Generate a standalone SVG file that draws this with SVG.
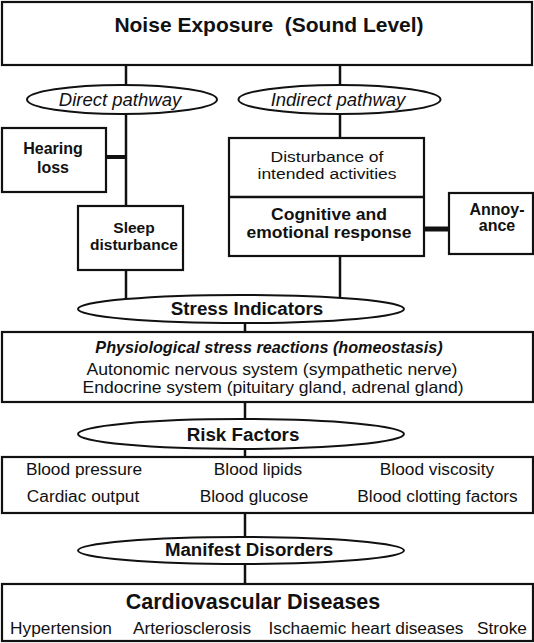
<svg xmlns="http://www.w3.org/2000/svg" width="534" height="643" viewBox="0 0 534 643">
<style>
.box{fill:#fff;stroke:#111;stroke-width:2.2}
.ell{fill:#fff;stroke:#111;stroke-width:2}
.con{stroke:#111;stroke-width:2.5;fill:none}
text{font-family:"Liberation Sans",Arial,sans-serif;fill:#111;text-anchor:middle}
.b{font-weight:bold}
.i{font-style:italic}
</style>
<rect width="534" height="643" fill="#fff"/>
<g id="connectors">
<line class="con" x1="126" y1="65" x2="126" y2="86"/>
<line class="con" x1="340" y1="65" x2="340" y2="86"/>
<line class="con" x1="126" y1="113" x2="126" y2="207"/>
<line class="con" x1="106" y1="157" x2="126" y2="157" style="stroke-width:4"/>
<line class="con" x1="340" y1="113" x2="340" y2="139"/>
<line class="con" x1="424" y1="229" x2="449" y2="229" style="stroke-width:5"/>
<line class="con" x1="126" y1="269" x2="126" y2="301"/>
<line class="con" x1="340" y1="255" x2="340" y2="300"/>
<line class="con" x1="245" y1="322" x2="245" y2="333"/>
<line class="con" x1="245" y1="401" x2="245" y2="420"/>
<line class="con" x1="245" y1="448" x2="245" y2="458"/>
<line class="con" x1="245" y1="512" x2="245" y2="538"/>
<line class="con" x1="245" y1="563" x2="245" y2="585"/>
</g>
<g id="noise">
<rect class="box" x="2" y="2" width="530" height="63"/>
<text class="b" x="269" y="32" font-size="21" xml:space="preserve">Noise Exposure  (Sound Level)</text>
</g>
<g id="direct">
<ellipse class="ell" cx="122" cy="99.5" rx="95" ry="14.5"/>
<text class="i" x="120" y="106" font-size="18.5">Direct pathway</text>
</g>
<g id="indirect">
<ellipse class="ell" cx="339.5" cy="99.5" rx="101" ry="14.5"/>
<text class="i" x="338" y="106" font-size="18.5">Indirect pathway</text>
</g>
<g id="hearing">
<rect class="box" x="2" y="128" width="104" height="64"/>
<text class="b" x="53" y="154" font-size="16">Hearing</text>
<text class="b" x="53" y="173" font-size="16">loss</text>
</g>
<g id="sleep">
<rect class="box" x="78" y="206" width="105" height="64"/>
<text class="b" x="134" y="232.5" font-size="15.5">Sleep</text>
<text class="b" x="134" y="250" font-size="15.5">disturbance</text>
</g>
<g id="indirect-box">
<rect class="box" x="229" y="138" width="195" height="118"/>
<line x1="229" y1="197" x2="424" y2="197" stroke="#111" stroke-width="2.5"/>
<text x="327" y="161.5" font-size="15.5" textLength="113" lengthAdjust="spacingAndGlyphs">Disturbance of</text>
<text x="327" y="179" font-size="15.5" textLength="139" lengthAdjust="spacingAndGlyphs">intended activities</text>
<text class="b" x="329" y="220" font-size="16" textLength="116" lengthAdjust="spacingAndGlyphs">Cognitive and</text>
<text class="b" x="329" y="237.5" font-size="16" textLength="165" lengthAdjust="spacingAndGlyphs">emotional response</text>
</g>
<g id="annoyance">
<rect class="box" x="449" y="193" width="84" height="61"/>
<text class="b" x="497" y="215" font-size="16">Annoy-</text>
<text class="b" x="497" y="231" font-size="16">ance</text>
</g>
<g id="stress">
<ellipse class="ell" cx="241" cy="309" rx="163" ry="14"/>
<text class="b" x="247" y="315" font-size="18.8">Stress Indicators</text>
</g>
<g id="physio">
<rect class="box" x="2" y="332" width="531" height="70"/>
<text class="b i" x="269" y="353" font-size="16.2">Physiological stress reactions (homeostasis)</text>
<text x="272" y="375" font-size="16.5" textLength="371" lengthAdjust="spacingAndGlyphs">Autonomic nervous system (sympathetic nerve)</text>
<text x="273" y="393" font-size="16.5" textLength="381" lengthAdjust="spacingAndGlyphs">Endocrine system (pituitary gland, adrenal gland)</text>
</g>
<g id="risk">
<ellipse class="ell" cx="241" cy="434" rx="163" ry="15"/>
<text class="b" x="243" y="440.5" font-size="18.8">Risk Factors</text>
</g>
<g id="risk-box">
<rect class="box" x="2" y="457" width="531" height="56"/>
<text x="84" y="475" font-size="17.3">Blood pressure</text>
<text x="258" y="475" font-size="17.3">Blood lipids</text>
<text x="437" y="475" font-size="17.3">Blood viscosity</text>
<text x="83" y="502" font-size="17.3">Cardiac output</text>
<text x="254" y="502" font-size="17.3">Blood glucose</text>
<text x="437.5" y="502" font-size="17.3">Blood clotting factors</text>
</g>
<g id="manifest">
<ellipse class="ell" cx="241" cy="550.5" rx="163" ry="13.5"/>
<text class="b" x="249" y="556" font-size="18.7">Manifest Disorders</text>
</g>
<g id="cvd">
<rect class="box" x="2" y="584" width="531" height="57"/>
<text class="b" x="253" y="608.5" font-size="21.5">Cardiovascular Diseases</text>
<text x="61" y="633.5" font-size="17.3">Hypertension</text>
<text x="192" y="633.5" font-size="17.3">Arteriosclerosis</text>
<text x="366" y="633.5" font-size="17.3">Ischaemic heart diseases</text>
<text x="502" y="633.5" font-size="17.3">Stroke</text>
</g>
</svg>
